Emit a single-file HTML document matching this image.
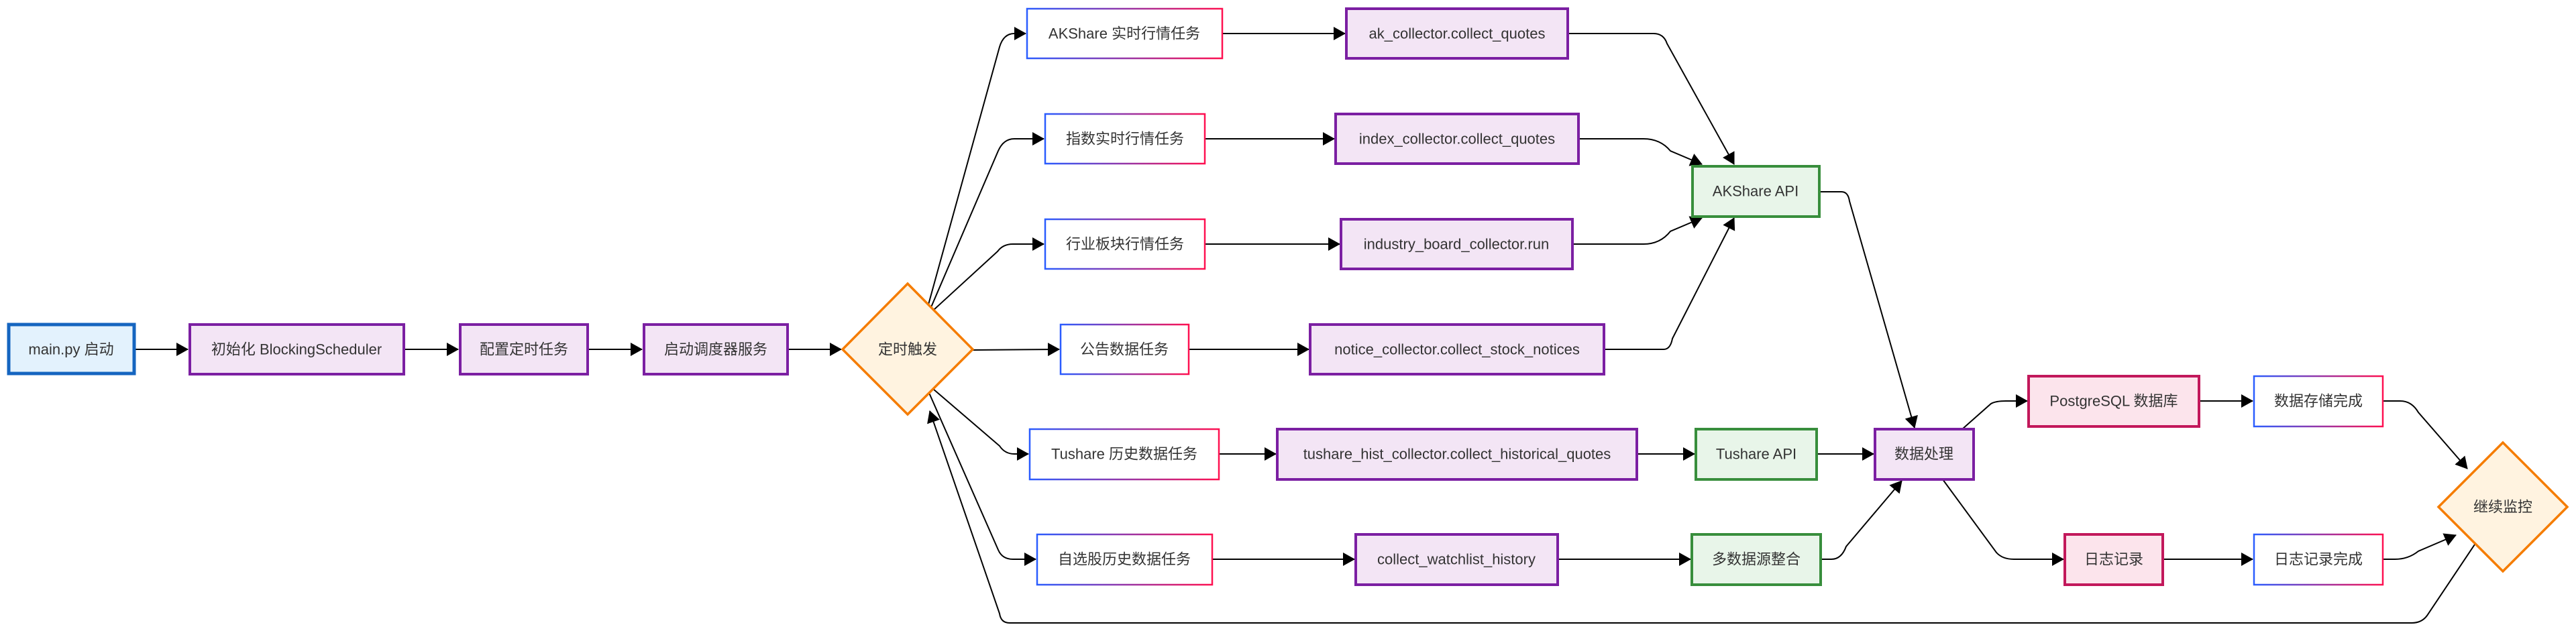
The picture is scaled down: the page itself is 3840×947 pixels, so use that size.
<!DOCTYPE html>
<html><head><meta charset="utf-8"><style>
html,body{margin:0;padding:0;background:#fff;}
svg{display:block;}
text{font-family:"Liberation Sans","Noto Sans CJK SC",sans-serif;font-size:22px;fill:#333;text-anchor:middle;dominant-baseline:central;}
.e{fill:none;stroke:#000;stroke-width:2;marker-end:url(#ah);}
.p{fill:#f3e5f5;stroke:#7b1fa2;stroke-width:4;}
.g{fill:#e8f5e9;stroke:#388e3c;stroke-width:4;}
.k{fill:#fce4ec;stroke:#c2185b;stroke-width:4;}
.t{fill:#fff;stroke:url(#gr);stroke-width:2.5;}
.d{fill:#fff3e0;stroke:#f57c00;stroke-width:3.5;}
</style></head><body>
<svg width="3840" height="947" viewBox="0 0 3840 947" xmlns="http://www.w3.org/2000/svg">
<defs>
<linearGradient id="gr" x1="0" y1="0" x2="1" y2="0"><stop offset="0" stop-color="#2a5cff"/><stop offset="1" stop-color="#ff1050"/></linearGradient>
<marker id="ah" markerUnits="userSpaceOnUse" markerWidth="18" markerHeight="20" viewBox="0 0 18 20" refX="17" refY="10" orient="auto"><path d="M0,0 L18,10 L0,20 Z" fill="#000"/></marker>
</defs>
<path class="e" d="M201,521 H280"/>
<path class="e" d="M603,521 H683"/>
<path class="e" d="M877,521 H957"/>
<path class="e" d="M1175,521 H1254"/>
<path class="e" d="M1384,454 L1490,70 Q1496,50 1512,50 H1529"/>
<path class="e" d="M1388,458 L1488,225 Q1496,207 1512,207 H1556"/>
<path class="e" d="M1392,462 L1487,375 Q1495,364 1510,364 H1556"/>
<path class="e" d="M1450,522 L1579,521"/>
<path class="e" d="M1391,580 L1490,665 Q1498,677 1512,677 H1533"/>
<path class="e" d="M1385,586 L1488,820 Q1494,834 1510,834 H1544"/>
<path class="e" d="M3689,812 L3618,918 Q3610,929 3595,929 H1505 Q1492,929 1490,915 L1386,613"/>
<path class="e" d="M1822,50 H2005"/>
<path class="e" d="M1796,207 H1989"/>
<path class="e" d="M1796,364 H1997"/>
<path class="e" d="M1772,521 H1951"/>
<path class="e" d="M1817,677 H1902"/>
<path class="e" d="M1807,834 H2019"/>
<path class="e" d="M2337,50 H2465 Q2480,50 2485,65 L2585,245"/>
<path class="e" d="M2353,207 H2450 Q2475,207 2490,225 L2537,245"/>
<path class="e" d="M2344,364 H2450 Q2475,364 2490,345 L2537,325"/>
<path class="e" d="M2391,521 H2480 Q2490,521 2493,505 L2585,325"/>
<path class="e" d="M2440,677 H2526"/>
<path class="e" d="M2708,677 H2793"/>
<path class="e" d="M2322,834 H2520"/>
<path class="e" d="M2714,834 H2730 Q2745,834 2752,815 L2835,717"/>
<path class="e" d="M2712,286 H2745 Q2755,286 2757,300 L2854,638"/>
<path class="e" d="M2925,640 L2968,602 Q2975,598 2990,598 H3022"/>
<path class="e" d="M2896,715 L2976,824 Q2985,834 3002,834 H3076"/>
<path class="e" d="M3278,598 H3358"/>
<path class="e" d="M3224,834 H3358"/>
<path class="e" d="M3552,598 H3578 Q3595,598 3605,615 L3678,699"/>
<path class="e" d="M3552,834 H3570 Q3590,834 3605,822 L3661,798"/>
<rect x="13" y="484" width="187" height="73" fill="#e3f2fd" stroke="#1565c0" stroke-width="5"/><text x="106" y="521">main.py 启动</text>
<rect class="p" x="283" y="484" width="319" height="74"/><text x="442" y="521">初始化 BlockingScheduler</text>
<rect class="p" x="686" y="484" width="190" height="74"/><text x="781" y="521">配置定时任务</text>
<rect class="p" x="960" y="484" width="214" height="74"/><text x="1067" y="521">启动调度器服务</text>
<polygon class="d" points="1353,423 1450,521 1353,618 1256,521"/><text x="1353" y="521">定时触发</text>
<rect class="t" x="1531" y="13" width="291" height="74"/><text x="1676" y="50">AKShare 实时行情任务</text>
<rect class="t" x="1558" y="170" width="238" height="74"/><text x="1677" y="207">指数实时行情任务</text>
<rect class="t" x="1558" y="327" width="238" height="74"/><text x="1677" y="364">行业板块行情任务</text>
<rect class="t" x="1581" y="484" width="191" height="74"/><text x="1676" y="521">公告数据任务</text>
<rect class="t" x="1535" y="640" width="282" height="75"/><text x="1676" y="677">Tushare 历史数据任务</text>
<rect class="t" x="1546" y="797" width="261" height="75"/><text x="1676" y="834">自选股历史数据任务</text>
<rect class="p" x="2007" y="13" width="330" height="74"/><text x="2172" y="50">ak_collector.collect_quotes</text>
<rect class="p" x="1991" y="170" width="362" height="74"/><text x="2172" y="207">index_collector.collect_quotes</text>
<rect class="p" x="1999" y="327" width="345" height="74"/><text x="2171" y="364">industry_board_collector.run</text>
<rect class="p" x="1953" y="484" width="438" height="74"/><text x="2172" y="521">notice_collector.collect_stock_notices</text>
<rect class="p" x="1904" y="640" width="536" height="75"/><text x="2172" y="677">tushare_hist_collector.collect_historical_quotes</text>
<rect class="p" x="2021" y="797" width="301" height="75"/><text x="2171" y="834">collect_watchlist_history</text>
<rect class="g" x="2523" y="248" width="189" height="75"/><text x="2617" y="285">AKShare API</text>
<rect class="g" x="2528" y="640" width="180" height="75"/><text x="2618" y="677">Tushare API</text>
<rect class="g" x="2522" y="797" width="192" height="75"/><text x="2618" y="834">多数据源整合</text>
<rect class="p" x="2795" y="640" width="147" height="75"/><text x="2868" y="677">数据处理</text>
<rect class="k" x="3024" y="561" width="254" height="75"/><text x="3151" y="598">PostgreSQL 数据库</text>
<rect class="k" x="3078" y="797" width="146" height="75"/><text x="3151" y="834">日志记录</text>
<rect class="t" x="3360" y="561" width="192" height="75"/><text x="3456" y="598">数据存储完成</text>
<rect class="t" x="3360" y="797" width="192" height="75"/><text x="3456" y="834">日志记录完成</text>
<polygon class="d" points="3731,660 3827,756 3731,852 3635,756"/><text x="3731" y="756">继续监控</text>
</svg>
</body></html>
